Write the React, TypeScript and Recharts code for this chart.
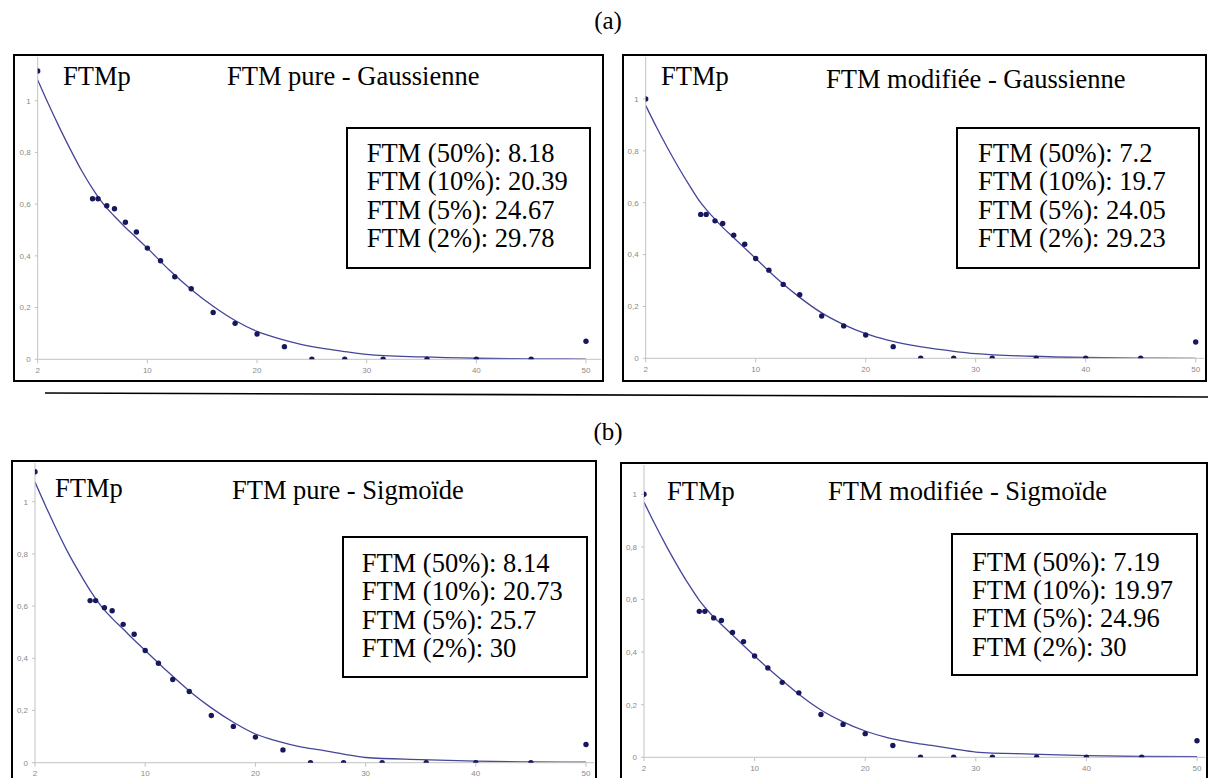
import React from "react";
import { ComposedChart, Line, Scatter, XAxis, YAxis } from "recharts";

// measured FTMp points (same abscissa for every panel)
const measuredX = [0, 5, 5.5, 6.3, 7, 8, 9, 10, 11.2, 12.5, 14, 16, 18, 20, 22.5, 25, 28, 31.5, 35.5, 40, 45, 50];
const pureY = [1.115, 0.621, 0.621, 0.594, 0.582, 0.53, 0.492, 0.43, 0.381, 0.319, 0.273, 0.181, 0.139, 0.098, 0.049, 0, 0, 0, 0, 0, 0, 0.07];
const modifiedY = [1.0, 0.555, 0.555, 0.53, 0.52, 0.475, 0.44, 0.385, 0.34, 0.285, 0.245, 0.163, 0.125, 0.09, 0.045, 0, 0, 0, 0, 0, 0, 0.063];

// fitted curves
const fitX = [0, 1, 2, 3, 4, 5, 6, 7, 8, 9, 10, 12, 14, 16, 18, 20, 22, 24, 26, 28, 30, 35, 40, 45, 50];
const fitPureGauss = [1.08, 0.985, 0.895, 0.81, 0.73, 0.66, 0.6, 0.553, 0.51, 0.47, 0.43, 0.345, 0.27, 0.205, 0.15, 0.108, 0.08, 0.058, 0.042, 0.03, 0.019, 0.009, 0.004, 0.002, 0.001];
const fitModGauss = [0.975, 0.89, 0.81, 0.735, 0.665, 0.6, 0.55, 0.505, 0.465, 0.425, 0.385, 0.305, 0.235, 0.175, 0.13, 0.095, 0.07, 0.052, 0.038, 0.027, 0.018, 0.008, 0.003, 0.001, 0];
const fitPureSig = [1.075, 0.98, 0.89, 0.805, 0.73, 0.66, 0.6, 0.553, 0.512, 0.47, 0.43, 0.35, 0.275, 0.21, 0.155, 0.11, 0.083, 0.062, 0.048, 0.033, 0.02, 0.012, 0.006, 0.003, 0.002];
const fitModSig = [0.97, 0.885, 0.805, 0.73, 0.66, 0.597, 0.547, 0.505, 0.465, 0.425, 0.385, 0.31, 0.24, 0.18, 0.135, 0.1, 0.075, 0.058, 0.045, 0.032, 0.02, 0.012, 0.006, 0.003, 0.002];

// axis ticks
const xTicks = [0, 10, 20, 30, 40, 50];
const xTickLabels = ["2", "10", "20", "30", "40", "50"];
const yTicks = [0, 0.2, 0.4, 0.6, 0.8, 1];
const yTickLabels = ["0", "0,2", "0,4", "0,6", "0,8", "1"];

// inset texts
const ftmLabels = ["FTM (50%)", "FTM (10%)", "FTM (5%)", "FTM (2%)"];
const ftmPureGauss = ["8.18", "20.39", "24.67", "29.78"];
const ftmModGauss = ["7.2", "19.7", "24.05", "29.23"];
const ftmPureSig = ["8.14", "20.73", "25.7", "30"];
const ftmModSig = ["7.19", "19.97", "24.96", "30"];

const toPoints = (xs: number[], ys: number[]) => xs.map((x, i) => ({ x, y: ys[i] }));

const SERIF = '"Liberation Serif", "Times New Roman", serif';
const FS = 26.5;
const DOT = "#17175c";
const CURVE = "#45459a";
const AXIS = "#c2c2c2";

const panels = [
  {
    title: "FTM pure - Gaussienne",
    measured: pureY,
    fit: fitPureGauss,
    values: ftmPureGauss,
    box: { l: 13, t: 54, w: 591, h: 328 },
    axis: { x0: 37.7, x50: 586, y0: 359.3, y1: 100.7 },
    ftmp: { l: 63, c: 76.7 },
    head: { l: 227, c: 76.7 },
    inset: { l: 346, t: 127.3, w: 245, h: 142, tx: 366.7, c: 153.3 },
  },
  {
    title: "FTM modifiée - Gaussienne",
    measured: modifiedY,
    fit: fitModGauss,
    values: ftmModGauss,
    box: { l: 622, t: 54, w: 585, h: 328 },
    axis: { x0: 645.7, x50: 1195.7, y0: 358.3, y1: 99 },
    ftmp: { l: 661, c: 76.7 },
    head: { l: 826, c: 79 },
    inset: { l: 956, t: 127.3, w: 244, h: 142, tx: 978, c: 153.3 },
  },
  {
    title: "FTM pure - Sigmoïde",
    measured: pureY,
    fit: fitPureSig,
    values: ftmPureSig,
    box: { l: 11, t: 460, w: 586, h: 330 },
    axis: { x0: 35, x50: 586, y0: 762.7, y1: 501.7 },
    ftmp: { l: 55, c: 488.3 },
    head: { l: 232, c: 490 },
    inset: { l: 341.7, t: 535.7, w: 246.6, h: 142, tx: 361.7, c: 563.3 },
  },
  {
    title: "FTM modifiée - Sigmoïde",
    measured: modifiedY,
    fit: fitModSig,
    values: ftmModSig,
    box: { l: 620, t: 462, w: 588, h: 330 },
    axis: { x0: 644, x50: 1197, y0: 757.3, y1: 494.3 },
    ftmp: { l: 667, c: 491.7 },
    head: { l: 828, c: 491.7 },
    inset: { l: 951, t: 533.3, w: 247, h: 142.7, tx: 972, c: 562 },
  },
];

const Dot = (p: any) => <circle cx={p.cx} cy={p.cy} r={2.7} fill={DOT} />;

function Label({ left, center, text, size = FS }: { left: number; center: number; text: string; size?: number }) {
  return (
    <div
      style={{
        position: "absolute",
        left,
        top: center - size * 0.5,
        fontSize: size,
        lineHeight: `${size}px`,
        whiteSpace: "nowrap",
        color: "#000",
      }}
    >
      {text}
    </div>
  );
}

function Panel({ cfg }: { cfg: (typeof panels)[number] }) {
  const { box, axis } = cfg;
  const cl = box.l + 2;
  const ct = box.t + 2;
  const cw = box.w - 4;
  const ch = box.h - 4;
  const pxX = (axis.x50 - axis.x0) / 50;
  const yAxisW = axis.x0 - cl;
  const xMax = (box.l + box.w - 3 - axis.x0) / pxX;
  const marginRight = cw - yAxisW - xMax * pxX;
  const marginTop = 1;
  const yMax = (axis.y0 - (ct + marginTop)) / (axis.y0 - axis.y1);
  const xAxisH = ct + ch - axis.y0;

  return (
    <>
      <div
        style={{
          position: "absolute",
          left: box.l,
          top: box.t,
          width: box.w,
          height: box.h,
          border: "2px solid #000",
          boxSizing: "border-box",
          background: "#fff",
        }}
      >
        <div style={{ position: "absolute", left: 0, top: 0 }}>
          <ComposedChart
            width={cw}
            height={ch}
            margin={{ top: marginTop, right: marginRight, bottom: 0, left: 0 }}
          >
            <XAxis
              type="number"
              dataKey="x"
              domain={[0, xMax]}
              ticks={xTicks}
              allowDataOverflow
              height={xAxisH}
              stroke={AXIS}
              tickSize={4}
              tickMargin={4}
              tick={{ fontSize: 8, fill: "#8a8a8a", fontFamily: "Liberation Sans, Arial, sans-serif" }}
              tickFormatter={(v: number) => xTickLabels[xTicks.indexOf(v)] ?? String(v)}
            />
            <YAxis
              type="number"
              domain={[0, yMax]}
              ticks={yTicks}
              allowDataOverflow
              width={yAxisW}
              stroke={AXIS}
              tickSize={3}
              tickMargin={4}
              tick={{ fontSize: 8, fill: "#8a8a8a", fontFamily: "Liberation Sans, Arial, sans-serif" }}
              tickFormatter={(v: number) => yTickLabels[yTicks.indexOf(v)] ?? String(v)}
            />
            <Line
              data={toPoints(fitX, cfg.fit)}
              dataKey="y"
              type="monotone"
              stroke={CURVE}
              strokeWidth={1.3}
              dot={false}
              activeDot={false}
              isAnimationActive={false}
            />
            <Scatter
              data={toPoints(measuredX, cfg.measured)}
              dataKey="y"
              shape={Dot}
              isAnimationActive={false}
            />
          </ComposedChart>
        </div>
      </div>
      <Label left={cfg.ftmp.l} center={cfg.ftmp.c} text="FTMp" />
      <Label left={cfg.head.l} center={cfg.head.c} text={cfg.title} />
      <div
        style={{
          position: "absolute",
          left: cfg.inset.l,
          top: cfg.inset.t,
          width: cfg.inset.w,
          height: cfg.inset.h,
          border: "2px solid #000",
          boxSizing: "border-box",
          background: "#fff",
        }}
      />
      {ftmLabels.map((lab, i) => (
        <Label
          key={lab}
          left={cfg.inset.tx}
          center={cfg.inset.c + i * 28.33}
          text={`${lab}: ${cfg.values[i]}`}
        />
      ))}
    </>
  );
}

export default function App() {
  return (
    <div
      style={{
        position: "absolute",
        left: 0,
        top: 0,
        width: 1208,
        height: 778,
        overflow: "hidden",
        background: "#fff",
        fontFamily: SERIF,
      }}
    >
      <div style={{ position: "absolute", left: 0, width: 1216, top: 8, textAlign: "center", fontSize: 25, lineHeight: "25px" }}>
        (a)
      </div>
      {panels.map((p) => (
        <Panel key={p.title} cfg={p} />
      ))}
      <svg style={{ position: "absolute", left: 0, top: 0 }} width={1208} height={778} pointerEvents="none">
        <line x1={45} y1={393} x2={1208} y2={397} stroke="#000" strokeWidth={1.6} />
      </svg>
      <div style={{ position: "absolute", left: 0, width: 1216, top: 419, textAlign: "center", fontSize: 25, lineHeight: "25px" }}>
        (b)
      </div>
    </div>
  );
}
